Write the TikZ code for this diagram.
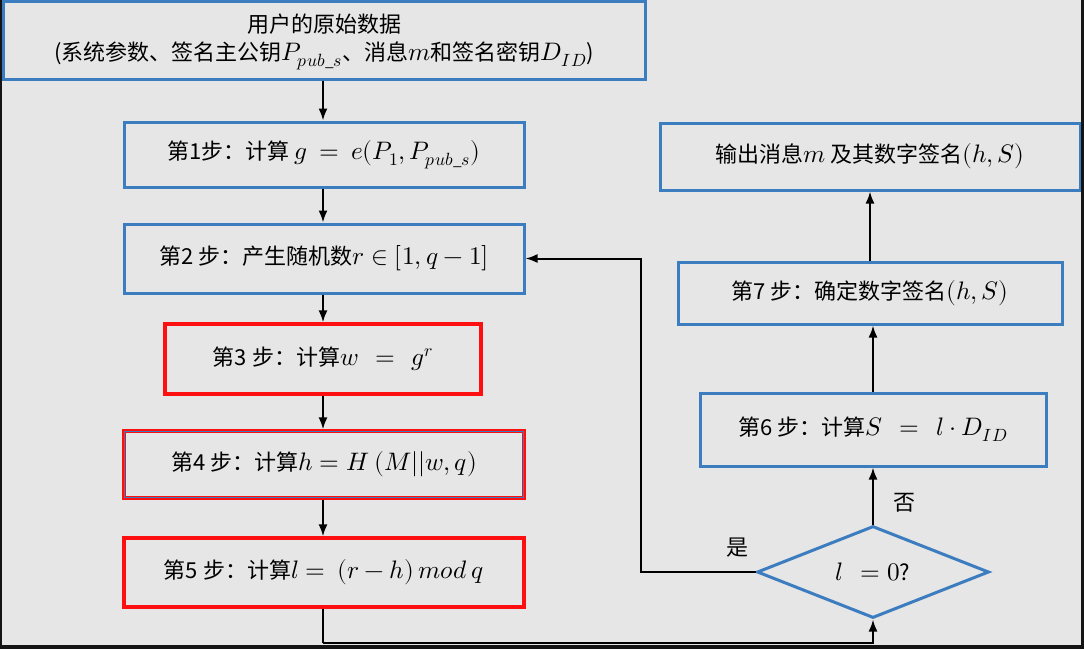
\documentclass[tikz,border=0pt]{standalone}
\usepackage{fontspec}
\usepackage{unicode-math}
\setmainfont{Noto Sans CJK SC}
\setmathfont{Latin Modern Math}[Scale=1.15]
\usetikzlibrary{shapes.geometric,arrows.meta}
\definecolor{bg}{HTML}{E6E6E6}
\definecolor{bblue}{HTML}{3C7DC0}
\definecolor{rred}{HTML}{FF1010}
\definecolor{frame}{HTML}{141414}
\tikzset{
  txt/.style={font=\fontsize{22}{26}\selectfont},
  bluebox/.style={txt,draw=bblue,line width=3pt,fill=bg,rectangle,inner sep=2pt},
  redbox/.style={txt,draw=rred,line width=3.2pt,fill=bg,rectangle,inner sep=2pt},
  conn/.style={draw=black,line width=2pt,-{Latex[length=12pt,width=9pt]}},
  plainline/.style={draw=black,line width=2pt},
  lbl/.style={font=\fontsize{22}{26}\selectfont}
}
\begin{document}
\begin{tikzpicture}[x=1pt,y=-1pt]
\fill[bg] (0,0) rectangle (1084,649);
\useasboundingbox (0,0) rectangle (1084,649);
% nodes
\node[bluebox,minimum width=642pt,minimum height=78pt] (top) at (324,40) {};
\node[font=\fontsize{22}{28}\selectfont,align=center] (toptext) at (324,42)
  {用户的原始数据\\(系统参数、签名主公钥$P_{pub\_s}$、消息$m$和签名密钥$D_{ID}$)};
\node[bluebox,minimum width=400pt,minimum height=65pt] (s1) at (324,154.5)
  {第1步：计算 $g\ =\ e(P_1,P_{pub\_s})$};
\node[bluebox,minimum width=400pt,minimum height=69pt] (s2) at (324,258.5)
  {第2 步：产生随机数$r\in[1,q-1]$};
\node[redbox,minimum width=316pt,minimum height=70pt] (s3) at (323,359)
  {第3 步：计算$w\ \ =\ \ g^{r}$};
\node[redbox,minimum width=400pt,minimum height=67pt] (s4) at (324,464.5)
  {第4 步：计算$h=H\ (M||w,q)$};
\draw[bblue,line width=0.9pt] ([xshift=2.2pt,yshift=-2.2pt]s4.north west) rectangle ([xshift=-2.2pt,yshift=2.2pt]s4.south east);
\node[redbox,minimum width=400pt,minimum height=69pt] (s5) at (324,572.5)
  {第5 步：计算$l=\ (r-h)\,mod\ q$};
\node[bluebox,minimum width=420pt,minimum height=67pt] (out) at (870,156.5)
  {输出消息$m$ 及其数字签名$(h,S)$};
\node[bluebox,minimum width=384pt,minimum height=62pt] (s7) at (870,293)
  {第7 步：确定数字签名$(h,S)$};
\node[bluebox,minimum width=346pt,minimum height=73pt] (s6) at (873,429.5)
  {第6 步：计算$S\ \ =\ \ l\cdot D_{ID}$};
\node[txt,diamond,draw=bblue,line width=3pt,fill=bg,minimum width=232pt,minimum height=92pt,inner sep=0pt,aspect=2.52] (d) at (873,572)
  {$l\ \ =0$?};
% labels
\node[lbl] (yes) at (737,548) {是};
\node[lbl] (no) at (904,503) {否};
% helper coordinates
\coordinate (bot) at (323,643);
\coordinate (yc) at (641,258.5);
% connectors
\draw[conn] (top.south -| 323,0) -- (s1.north -| 323,0);
\draw[conn] (s1.south -| 323,0) -- (s2.north -| 323,0);
\draw[conn] (s2.south -| 323,0) -- (s3.north -| 323,0);
\draw[conn] (s3.south -| 323,0) -- (s4.north -| 323,0);
\draw[conn] (s4.south -| 323,0) -- (s5.north -| 323,0);
\draw[plainline] (s5.south -| bot) -- (bot);
\draw[conn] (bot) -| (d.south);
\draw[conn] (d.west) -| (yc) -- (s2.east);
\draw[conn] (d.north) -- (s6.south);
\draw[conn] (s6.north) -- (s6.north |- s7.south);
\draw[conn] (s7.north) -- (out.south);
% dark frame
\fill[frame] (0,0) rectangle (1.5,649);
\fill[frame] (1081,0) rectangle (1084,649);
\fill[frame] (0,645) rectangle (1084,649);
\end{tikzpicture}
\end{document}
